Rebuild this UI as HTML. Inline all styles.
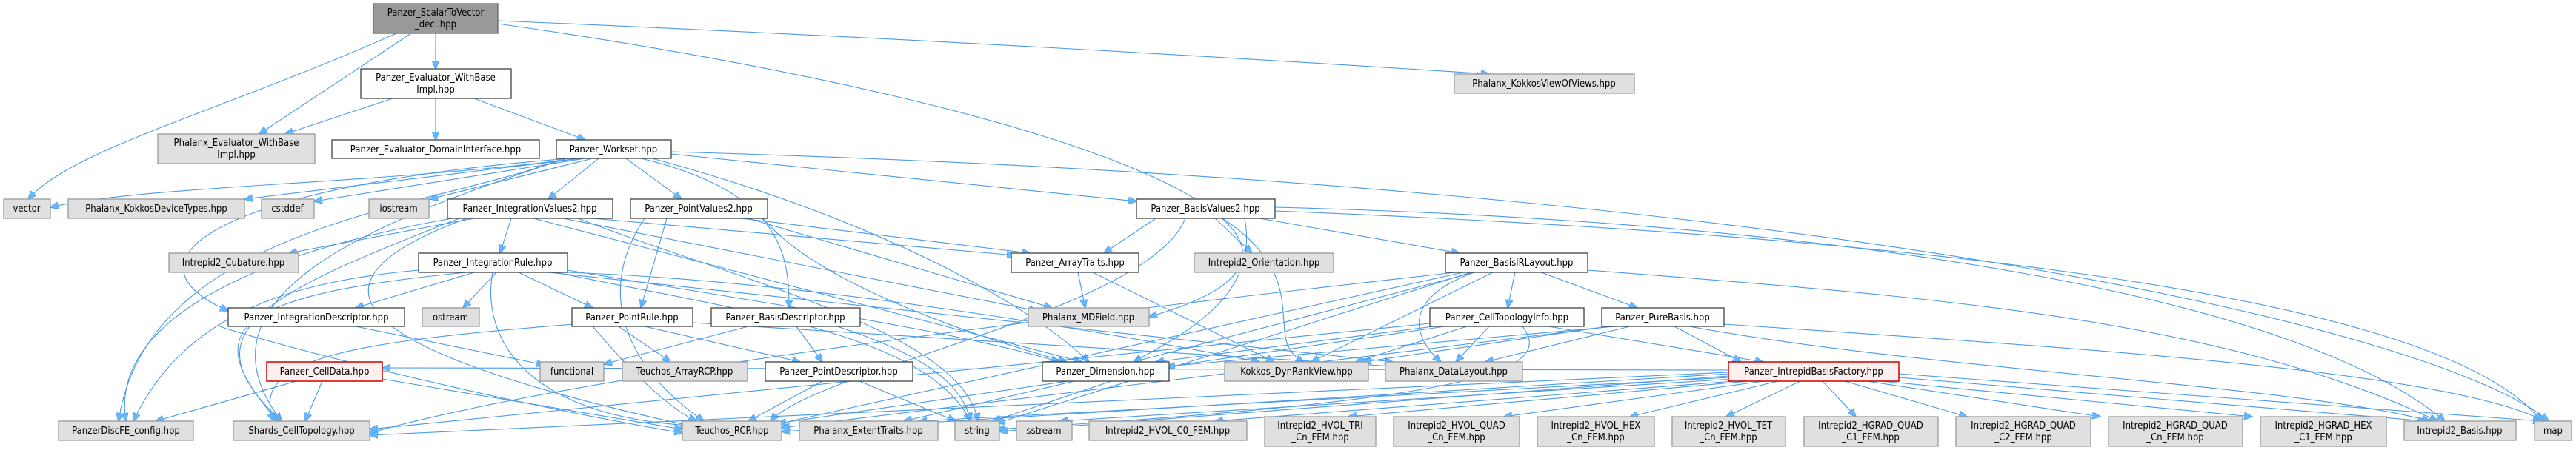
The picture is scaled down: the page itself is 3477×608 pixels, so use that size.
<!DOCTYPE html>
<html><head><meta charset="utf-8"><style>
html,body{margin:0;padding:0;background:#fff;}
svg{display:block;}
text{font-family:"DejaVu Sans Condensed","DejaVu Sans","Liberation Sans",sans-serif;font-size:13px;fill:#000;text-anchor:middle;}
.n rect{fill:#fcfffc;stroke:#404040;stroke-width:1.3;}
.g rect{fill:#e0e0e0;stroke:#999;stroke-width:1.3;}
.r rect{fill:#fff0f0;stroke:#cc0000;stroke-width:1.5;}
.root rect{fill:#999;stroke:#666;stroke-width:1.3;}
.e path{fill:none;stroke:#4a9ae8;stroke-width:1.1;marker-end:url(#ah);}
</style></head><body>
<svg width="3477" height="608" viewBox="0 0 3477 608" xmlns="http://www.w3.org/2000/svg">
<defs><marker id="ah" markerWidth="12" markerHeight="10" refX="11" refY="5" orient="auto" markerUnits="userSpaceOnUse"><path d="M0,0 L12,5 L0,10 z" fill="#63b8ff" stroke="#4a9ae8" stroke-width="0.8"/></marker></defs>
<g class="e">
<path d="M535 45 C300 150,100 200,38 269"/>
<path d="M555 45 L350 181"/>
<path d="M588 45 L588 93"/>
<path d="M672 28 C1200 50,1700 80,2010 100"/>
<path d="M672 32 C1500 150,1900 330,1551 428"/>
<path d="M530 133 L385 181"/>
<path d="M588 133 L588 189"/>
<path d="M640 133 L790 189"/>
<path d="M780 214 C500 250,200 250,68 280"/>
<path d="M785 214 L330 269"/>
<path d="M790 214 L424 272"/>
<path d="M800 214 L580 269"/>
<path d="M808 214 L740 269"/>
<path d="M845 214 L920 269"/>
<path d="M906 208 L1534 272"/>
<path d="M906 205 C2500 250,3300 450,3440 569"/>
<path d="M760 214 C600 280,200 300,160 569"/>
<path d="M765 214 C500 300,250 400,380 569"/>
<path d="M770 214 C300 250,150 350,308 420"/>
<path d="M865 214 C1060 260,1065 350,1065 416"/>
<path d="M880 214 C1200 300,1400 420,1470 489"/>
<path d="M2333 500 L516 497"/>
<path d="M640 295 L390 342"/>
<path d="M690 295 L675 342"/>
<path d="M800 295 L1370 345"/>
<path d="M760 295 L1400 420"/>
<path d="M720 295 L1460 489"/>
<path d="M630 295 C400 380,450 470,930 575"/>
<path d="M610 295 C300 350,150 450,170 569"/>
<path d="M620 295 C350 400,250 450,380 569"/>
<path d="M780 295 C1000 380,1300 450,1320 569"/>
<path d="M1000 295 L1390 342"/>
<path d="M900 295 L865 416"/>
<path d="M1010 295 L1420 416"/>
<path d="M870 295 C800 400,850 500,950 569"/>
<path d="M1030 295 C1100 380,1300 450,1440 489"/>
<path d="M1560 295 L1490 342"/>
<path d="M1640 295 L1690 342"/>
<path d="M1700 295 L1970 342"/>
<path d="M1680 295 C1700 400,1600 450,1530 489"/>
<path d="M1600 295 C1550 420,1100 500,1040 569"/>
<path d="M1721 280 C2500 300,3100 400,3300 569"/>
<path d="M1721 285 C2600 320,3300 400,3430 569"/>
<path d="M1650 295 C1780 380,1700 460,1760 489"/>
<path d="M640 368 L480 416"/>
<path d="M670 368 L625 416"/>
<path d="M700 368 L800 416"/>
<path d="M665 368 C650 450,700 560,930 575"/>
<path d="M565 365 C400 380,250 420,180 569"/>
<path d="M630 368 C300 400,270 450,375 569"/>
<path d="M750 368 C1000 420,1250 450,1310 569"/>
<path d="M766 365 C1100 420,1300 450,1430 489"/>
<path d="M766 368 C1100 380,1500 450,1700 489"/>
<path d="M740 368 L1880 489"/>
<path d="M835 441 L905 489"/>
<path d="M870 441 L1080 489"/>
<path d="M800 441 C850 500,900 550,940 569"/>
<path d="M775 438 C500 460,330 480,370 569"/>
<path d="M935 436 L1880 495"/>
<path d="M1010 441 L815 492"/>
<path d="M1075 441 L1110 489"/>
<path d="M1130 441 C1250 480,1300 520,1310 569"/>
<path d="M480 441 L735 493"/>
<path d="M295 440 C300 445,600 530,921 585"/>
<path d="M400 515 L210 569"/>
<path d="M435 515 L412 569"/>
<path d="M516 512 L921 580"/>
<path d="M1110 515 L1010 569"/>
<path d="M1160 515 L1290 569"/>
<path d="M1455 368 L1465 416"/>
<path d="M1475 368 L1720 489"/>
<path d="M1450 515 L1220 569"/>
<path d="M1500 515 L1340 569"/>
<path d="M2045 368 L2035 416"/>
<path d="M2080 368 L2210 416"/>
<path d="M2015 368 L1770 489"/>
<path d="M1990 368 C1900 400,1900 450,1945 489"/>
<path d="M1990 368 L1530 489"/>
<path d="M1975 368 L1040 575"/>
<path d="M1985 368 L1345 572"/>
<path d="M1965 368 C1500 420,800 500,499 585"/>
<path d="M2143 365 C2600 400,3000 430,3290 569"/>
<path d="M1980 441 L1830 489"/>
<path d="M2010 441 L1965 489"/>
<path d="M1935 441 L1560 489"/>
<path d="M1950 441 L1050 572"/>
<path d="M2055 441 C2100 500,2000 540,1345 580"/>
<path d="M1930 437 L499 580"/>
<path d="M2090 441 L2380 489"/>
<path d="M2170 441 L1840 489"/>
<path d="M2200 441 L2005 489"/>
<path d="M2260 441 L2350 489"/>
<path d="M2180 441 L1575 495"/>
<path d="M2280 441 C2600 500,3100 520,3280 569"/>
<path d="M2327 438 C2800 470,3300 500,3435 569"/>
<path d="M2175 441 L1055 578"/>
<path d="M2340 515 L1640 569"/>
<path d="M2360 515 L1820 563"/>
<path d="M2380 515 L2030 563"/>
<path d="M2400 515 L2200 563"/>
<path d="M2430 515 L2330 563"/>
<path d="M2460 515 L2505 563"/>
<path d="M2490 515 L2655 563"/>
<path d="M2520 515 L2835 563"/>
<path d="M2540 515 L3040 563"/>
<path d="M2563 510 L3275 569"/>
<path d="M2563 505 L3430 569"/>
<path d="M2333 505 L1055 583"/>
<path d="M2333 508 L1349 583"/>
<path d="M2340 512 L1430 569"/>
<path d="M2333 503 L499 588"/>
<path d="M2333 510 L1240 569"/>
</g>

<g class="root"><rect x="504" y="5" width="168" height="40"/><text x="588" y="21">Panzer_ScalarToVector</text><text x="588" y="37">_decl.hpp</text></g>
<g class="n"><rect x="487" y="93" width="203" height="40"/><text x="588" y="109">Panzer_Evaluator_WithBase</text><text x="588" y="125">Impl.hpp</text></g>
<g class="g"><rect x="213" y="181" width="212" height="40"/><text x="319" y="197">Phalanx_Evaluator_WithBase</text><text x="319" y="213">Impl.hpp</text></g>
<g class="n"><rect x="448" y="189" width="280" height="25"/><text x="588" y="206">Panzer_Evaluator_DomainInterface.hpp</text></g>
<g class="n"><rect x="751" y="189" width="155" height="25"/><text x="828" y="206">Panzer_Workset.hpp</text></g>
<g class="g"><rect x="1963" y="100" width="243" height="26"/><text x="2084" y="117">Phalanx_KokkosViewOfViews.hpp</text></g>

<g class="g"><rect x="5" y="269" width="63" height="26"/><text x="36" y="286">vector</text></g>
<g class="g"><rect x="92" y="269" width="238" height="26"/><text x="211" y="286">Phalanx_KokkosDeviceTypes.hpp</text></g>
<g class="g"><rect x="353" y="269" width="71" height="26"/><text x="388" y="286">cstddef</text></g>
<g class="g"><rect x="498" y="269" width="81" height="26"/><text x="538" y="286">iostream</text></g>
<g class="n"><rect x="604" y="269" width="223" height="26"/><text x="715" y="286">Panzer_IntegrationValues2.hpp</text></g>
<g class="n"><rect x="851" y="269" width="185" height="26"/><text x="943" y="286">Panzer_PointValues2.hpp</text></g>
<g class="n"><rect x="1534" y="269" width="187" height="26"/><text x="1627" y="286">Panzer_BasisValues2.hpp</text></g>

<g class="g"><rect x="228" y="342" width="175" height="26"/><text x="315" y="359">Intrepid2_Cubature.hpp</text></g>
<g class="n"><rect x="565" y="342" width="201" height="26"/><text x="665" y="359">Panzer_IntegrationRule.hpp</text></g>
<g class="n"><rect x="1365" y="342" width="172" height="26"/><text x="1451" y="359">Panzer_ArrayTraits.hpp</text></g>
<g class="g"><rect x="1612" y="342" width="188" height="26"/><text x="1706" y="359">Intrepid2_Orientation.hpp</text></g>
<g class="n"><rect x="1951" y="342" width="192" height="26"/><text x="2047" y="359">Panzer_BasisIRLayout.hpp</text></g>

<g class="n"><rect x="308" y="416" width="238" height="25"/><text x="427" y="433">Panzer_IntegrationDescriptor.hpp</text></g>
<g class="g"><rect x="570" y="416" width="77" height="25"/><text x="608" y="433">ostream</text></g>
<g class="n"><rect x="772" y="416" width="163" height="25"/><text x="853" y="433">Panzer_PointRule.hpp</text></g>
<g class="n"><rect x="960" y="416" width="201" height="25"/><text x="1060" y="433">Panzer_BasisDescriptor.hpp</text></g>
<g class="g"><rect x="1388" y="416" width="163" height="25"/><text x="1469" y="433">Phalanx_MDField.hpp</text></g>
<g class="n"><rect x="1930" y="416" width="208" height="25"/><text x="2034" y="433">Panzer_CellTopologyInfo.hpp</text></g>
<g class="n"><rect x="2162" y="416" width="165" height="25"/><text x="2244" y="433">Panzer_PureBasis.hpp</text></g>

<g class="r"><rect x="360" y="489" width="156" height="26"/><text x="438" y="506">Panzer_CellData.hpp</text></g>
<g class="g"><rect x="729" y="489" width="86" height="26"/><text x="772" y="506">functional</text></g>
<g class="g"><rect x="840" y="489" width="169" height="26"/><text x="924" y="506">Teuchos_ArrayRCP.hpp</text></g>
<g class="n"><rect x="1033" y="489" width="199" height="26"/><text x="1132" y="506">Panzer_PointDescriptor.hpp</text></g>
<g class="n"><rect x="1407" y="489" width="171" height="26"/><text x="1492" y="506">Panzer_Dimension.hpp</text></g>
<g class="g"><rect x="1653" y="489" width="194" height="26"/><text x="1750" y="506">Kokkos_DynRankView.hpp</text></g>
<g class="g"><rect x="1870" y="489" width="185" height="26"/><text x="1962" y="506">Phalanx_DataLayout.hpp</text></g>
<g class="r"><rect x="2333" y="489" width="230" height="26"/><text x="2448" y="506">Panzer_IntrepidBasisFactory.hpp</text></g>

<g class="g"><rect x="79" y="569" width="182" height="26"/><text x="170" y="586">PanzerDiscFE_config.hpp</text></g>
<g class="g"><rect x="315" y="569" width="184" height="26"/><text x="407" y="586">Shards_CellTopology.hpp</text></g>
<g class="g"><rect x="921" y="569" width="134" height="26"/><text x="988" y="586">Teuchos_RCP.hpp</text></g>
<g class="g"><rect x="1079" y="569" width="187" height="26"/><text x="1172" y="586">Phalanx_ExtentTraits.hpp</text></g>
<g class="g"><rect x="1289" y="569" width="60" height="26"/><text x="1319" y="586">string</text></g>
<g class="g"><rect x="1372" y="569" width="75" height="26"/><text x="1409" y="586">sstream</text></g>
<g class="g"><rect x="1470" y="569" width="213" height="26"/><text x="1576" y="586">Intrepid2_HVOL_C0_FEM.hpp</text></g>
<g class="g"><rect x="1707" y="563" width="150" height="40"/><text x="1782" y="579">Intrepid2_HVOL_TRI</text><text x="1782" y="595">_Cn_FEM.hpp</text></g>
<g class="g"><rect x="1881" y="563" width="170" height="40"/><text x="1966" y="579">Intrepid2_HVOL_QUAD</text><text x="1966" y="595">_Cn_FEM.hpp</text></g>
<g class="g"><rect x="2075" y="563" width="158" height="40"/><text x="2154" y="579">Intrepid2_HVOL_HEX</text><text x="2154" y="595">_Cn_FEM.hpp</text></g>
<g class="g"><rect x="2257" y="563" width="153" height="40"/><text x="2333" y="579">Intrepid2_HVOL_TET</text><text x="2333" y="595">_Cn_FEM.hpp</text></g>
<g class="g"><rect x="2435" y="563" width="181" height="40"/><text x="2525" y="579">Intrepid2_HGRAD_QUAD</text><text x="2525" y="595">_C1_FEM.hpp</text></g>
<g class="g"><rect x="2640" y="563" width="182" height="40"/><text x="2731" y="579">Intrepid2_HGRAD_QUAD</text><text x="2731" y="595">_C2_FEM.hpp</text></g>
<g class="g"><rect x="2846" y="563" width="181" height="40"/><text x="2936" y="579">Intrepid2_HGRAD_QUAD</text><text x="2936" y="595">_Cn_FEM.hpp</text></g>
<g class="g"><rect x="3051" y="563" width="170" height="40"/><text x="3136" y="579">Intrepid2_HGRAD_HEX</text><text x="3136" y="595">_C1_FEM.hpp</text></g>
<g class="g"><rect x="3245" y="569" width="151" height="26"/><text x="3320" y="586">Intrepid2_Basis.hpp</text></g>
<g class="g"><rect x="3421" y="569" width="50" height="26"/><text x="3446" y="586">map</text></g>
</svg>
</body></html>
